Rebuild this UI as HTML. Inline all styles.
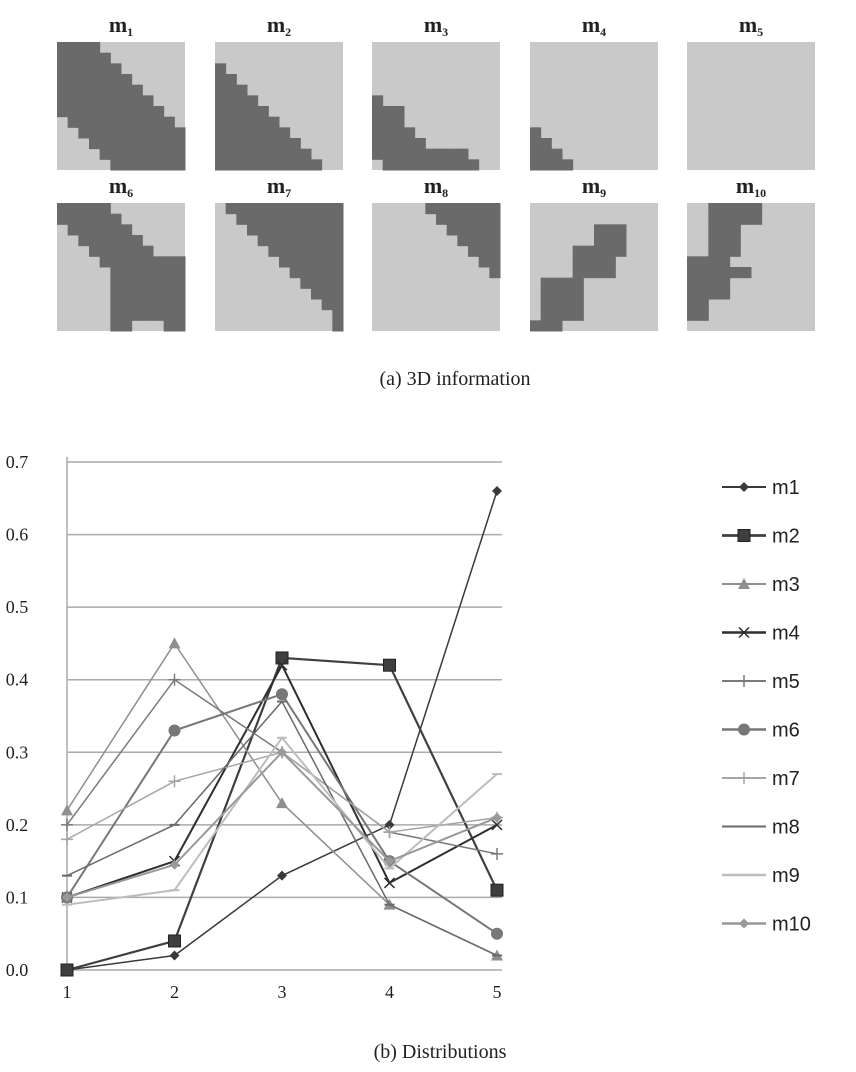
<!DOCTYPE html>
<html><head><meta charset="utf-8">
<style>
body{margin:0;width:856px;height:1072px;background:#fff;overflow:hidden;font-family:"Liberation Serif",serif;}
svg{display:block}
</style></head>
<body>
<svg id="fig" width="856" height="1072">
<g id="grids"></g>
<text x="455" y="385" text-anchor="middle" font-size="20" fill="#222">(a)  3D information</text>
<g id="chart"></g>
<text x="440" y="1058" text-anchor="middle" font-size="20" fill="#222">(b) Distributions</text>
</svg>
<script>
const categories=[1,2,3,4,5];
const yTicks=[0.0,0.1,0.2,0.3,0.4,0.5,0.6,0.7];
const seriesNames=["m1","m2","m3","m4","m5","m6","m7","m8","m9","m10"];
const m1=[0.00,0.02,0.13,0.20,0.66];
const m2=[0.00,0.04,0.43,0.42,0.11];
const m3=[0.22,0.45,0.23,0.09,0.02];
const m4=[0.10,0.15,0.42,0.12,0.20];
const m5=[0.20,0.40,0.30,0.19,0.16];
const m6=[0.10,0.33,0.38,0.15,0.05];
const m7=[0.18,0.26,0.30,0.19,0.21];
const m8=[0.13,0.20,0.37,0.09,0.02];
const m9=[0.09,0.11,0.32,0.14,0.27];
const m10=[0.10,0.145,0.30,0.15,0.21];
const seriesValues=[m1,m2,m3,m4,m5,m6,m7,m8,m9,m10];

const NS="http://www.w3.org/2000/svg";
function mk(tag,attrs,parent){const e=document.createElementNS(NS,tag);for(const k in attrs)e.setAttribute(k,attrs[k]);parent.appendChild(e);return e;}

const G=document.getElementById('grids');
const px=[57,215,372,530,687], py=[42,203], S=128, N=12, c=S/N;
function rowsFrom(fn){const m=[];for(let r=0;r<N;r++){const row=[];for(let k=0;k<N;k++)row.push(fn(r,k)?1:0);m.push(row);}return m;}
const masks=[
 rowsFrom((r,k)=>k>=Math.max(0,r-6)&&k<=Math.min(11,r+3)),
 rowsFrom((r,k)=>r>=2&&k<=Math.max(0,r-2)&&k<=9),
 rowsFrom((r,k)=>{const t=[[],[],[],[],[],[0,0],[0,2],[0,2],[0,3],[0,4],[0,8],[1,9]][r];return t.length&&k>=t[0]&&k<=t[1];}),
 rowsFrom((r,k)=>r>=8&&k<=r-8),
 rowsFrom(()=>false),
 rowsFrom((r,k)=>{if(r>=5&&r<=10&&k>=5)return true;if(r==11)return (k>=5&&k<=6)||k>=10;const l=r<2?0:r-1;return k>=l&&k<=r+4;}),
 rowsFrom((r,k)=>k>=r+1||(r==11&&k==11)),
 rowsFrom((r,k)=>r<=7&&k>=r+5),
 rowsFrom((r,k)=>(r>=2&&r<=4&&k>=6&&k<=8)||(r>=4&&r<=6&&k>=4&&k<=7)||(r>=7&&r<=10&&k>=1&&k<=4)||(r==11&&k<=2)),
 rowsFrom((r,k)=>(r<=1&&k>=2&&k<=6)||(r>=2&&r<=4&&k>=2&&k<=4)||(r>=5&&r<=8&&k<=3)||(r==6&&k<=5)||(r>=9&&r<=10&&k<=1))
];
for(let i=0;i<10;i++){
 const x0=px[i%5],y0=py[Math.floor(i/5)];
 const g=mk('g',{},G);
 
 
 mk('rect',{x:x0,y:y0,width:S,height:S,fill:'#c9c9c9'},g);
 for(let r=0;r<N;r++)for(let k=0;k<N;k++)if(masks[i][r][k])mk('rect',{x:x0+k*c,y:y0+r*c,width:c+0.5,height:c+0.5,fill:'#6a6a6a'},g);
 const t=mk('text',{x:x0+S/2,y:y0-10,'text-anchor':'middle','font-size':22,'font-weight':'bold',fill:'#222'},g);
 
 
 t.textContent='m';
 const s=mk('tspan',{'font-size':12,dy:4},t);s.textContent=String(i+1);
}

const C=document.getElementById('chart');
const X0=67,X1=497,Y0=970,Y1=462;
const xs=v=>X0+(v-1)*(X1-X0)/4;
const ys=v=>Y0-(v/0.7)*(Y0-Y1);
mk('line',{x1:X0,y1:Y1-5,x2:X0,y2:Y0,stroke:'#aaa','stroke-width':1.5},C);
yTicks.forEach(t=>{
 const l=mk('line',{x1:X0,x2:X1+5,y1:ys(t),y2:ys(t),stroke:'#aaa','stroke-width':1.5},C);
 
 
 const tx=mk('text',{x:X0-50,y:ys(t)+6,'font-size':18,fill:'#222','text-anchor':'middle'},C);
 
 
 tx.textContent=t.toFixed(1);
});
categories.forEach(v=>{
 const tx=mk('text',{x:xs(v),y:Y0+28,'font-size':18,fill:'#222','text-anchor':'middle'},C);
 
 
 tx.textContent=v;
});
const colors=['#3a3a3a','#3f3f3f','#8f8f8f','#2e2e2e','#7a7a7a','#777','#a5a5a5','#6a6a6a','#bdbdbd','#999'];
const widths=[1.5,2.2,1.5,2,1.5,2,1.5,1.5,2,2];
const markers=['diamond','square','tri','x','star','circle','plus','dash','dash2','diamond'];
function marker(type,x,y,col,g){
 if(type=='diamond')mk('polygon',{points:`${x},${y-5} ${x+5},${y} ${x},${y+5} ${x-5},${y}`,fill:col},g);
 else if(type=='square')mk('rect',{x:x-6,y:y-6,width:12,height:12,fill:col,stroke:'#222','stroke-width':1},g);
 else if(type=='tri')mk('polygon',{points:`${x},${y-6} ${x+6},${y+5} ${x-6},${y+5}`,fill:col},g);
 else if(type=='circle')mk('circle',{cx:x,cy:y,r:6,fill:col},g);
 else if(type=='x'){mk('line',{x1:x-5,y1:y-5,x2:x+5,y2:y+5,stroke:col,'stroke-width':1.5},g);mk('line',{x1:x-5,y1:y+5,x2:x+5,y2:y-5,stroke:col,'stroke-width':1.5},g);}
 else if(type=='star'||type=='plus'){mk('line',{x1:x,y1:y-6,x2:x,y2:y+6,stroke:col,'stroke-width':1.5},g);mk('line',{x1:x-6,y1:y,x2:x+6,y2:y,stroke:col,'stroke-width':1.5},g);}
 else mk('line',{x1:x-5,y1:y,x2:x+5,y2:y,stroke:col,'stroke-width':2},g);
}
seriesValues.forEach((vals,i)=>{
 const g=mk('g',{},C);
 
 
 const pts=vals.map((v,j)=>xs(categories[j])+','+ys(v)).join(' ');
 mk('polyline',{points:pts,fill:'none',stroke:colors[i],'stroke-width':widths[i]},g);
 vals.forEach((v,j)=>marker(markers[i],xs(categories[j]),ys(v),colors[i],g));
 const ly=487+i*48.5;
 const lg=mk('g',{},C);
 
 
 mk('line',{x1:722,x2:766,y1:ly,y2:ly,stroke:colors[i],'stroke-width':widths[i]+0.5},lg);
 marker(markers[i],744,ly,colors[i],lg);
 const t=mk('text',{x:772,y:ly+7,'font-size':20,fill:'#222','font-family':'Liberation Sans, sans-serif'},lg);
 t.textContent=seriesNames[i];
});
</script>
</body></html>
